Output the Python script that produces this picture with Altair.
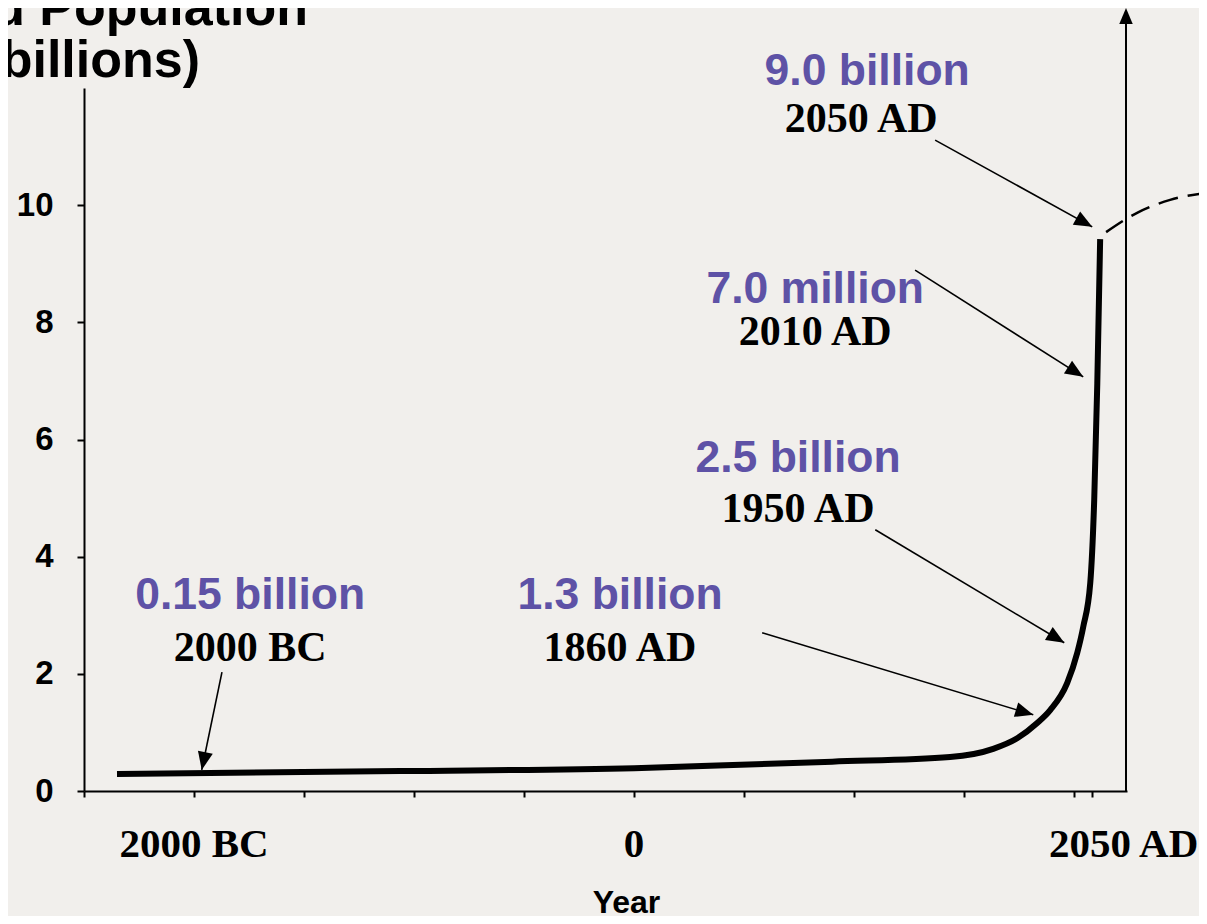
import math
import altair as alt
import pandas as pd

# ---------------- data ----------------
# schematic population curve: year (negative = BC), population (billions)
curve_year = [-2350, -1064, 0, 900, 1436, 1632, 1741, 1832, 1891, 1968, 2014, 2041, 2073, 2091, 2105, 2118]
curve_pop = [0.29, 0.34, 0.39, 0.50, 0.58, 0.72, 0.90, 1.16, 1.38, 1.84, 2.36, 2.80, 3.55, 4.97, 6.96, 9.42]

# dashed projection beyond 2050
proj_year = [2145, 2286, 2436, 2605]
proj_pop = [9.54, 9.87, 10.09, 10.21]

# annotations
purple_text = ["0.15 billion", "1.3 billion", "2.5 billion", "7.0 million", "9.0 billion"]
purple_year = [-1745, -64, 745, 823, 1059]
purple_pop = [3.11, 3.11, 5.45, 8.33, 12.05]
black_text = ["2000 BC", "1860 AD", "1950 AD", "2010 AD", "2050 AD"]
black_year = [-1745, -64, 745, 823, 1032]
black_pop = [2.22, 2.22, 4.59, 7.61, 11.25]

arrow_from_year = [-1873, 582, 1096, 1277, 1368]
arrow_from_pop = [2.03, 2.70, 4.46, 8.89, 11.11]
arrow_to_year = [-1965, 1814, 1955, 2041, 2082]
arrow_to_pop = [0.36, 1.30, 2.53, 7.07, 9.63]

# axis
x_ticks = [-2500, -2000, -1500, -1000, -500, 0, 500, 1000, 1500, 2000, 2080]
y_ticks = [0, 2, 4, 6, 8, 10]
xlab_text = ["2000 BC", "0", "2050 AD"]
xlab_year = [-2000, 0, 2225]

# ---------------- layout ----------------
W, H = 1043, 703
X_DOMAIN = [-2500, 2240]
Y_DOMAIN = [0, 12]
PX_PER_YEAR = W / (X_DOMAIN[1] - X_DOMAIN[0])
PX_PER_B = H / (Y_DOMAIN[1] - Y_DOMAIN[0])

PURPLE = "#5E52A6"
SANS = "Liberation Sans"
SERIF = "Liberation Serif"
ARROW_SHAPE = "M0,0L0.42,1L-0.42,1Z"

xs = alt.Scale(domain=X_DOMAIN, nice=False, zero=False)
ys = alt.Scale(domain=Y_DOMAIN, nice=False, zero=False)

xaxis = alt.Axis(
    values=x_ticks, labels=False, grid=False, tickSize=6, tickWidth=2, tickColor="black",
    domainColor="black", domainWidth=2, title="Year", titleFont=SANS, titleFontSize=32,
    titleFontWeight="bold", titleColor="black", titleX=542, titleY=121,
    titleAlign="center", titleBaseline="alphabetic",
)
yaxis = alt.Axis(
    values=y_ticks, grid=False, tickSize=7, tickWidth=2, tickColor="black",
    domainColor="black", domainWidth=2, labelFont=SANS, labelFontSize=33,
    labelFontWeight="bold", labelColor="black", labelPadding=24, title=None,
)


def X(field):
    return alt.X(field, type="quantitative", scale=xs, axis=xaxis)


def Y(field):
    return alt.Y(field, type="quantitative", scale=ys, axis=yaxis)


curve_df = pd.DataFrame({"year": curve_year, "val": curve_pop})
proj_df = pd.DataFrame({"year": proj_year, "val": proj_pop})
purple_df = pd.DataFrame({"year": purple_year, "val": purple_pop, "t": purple_text})
black_df = pd.DataFrame({"year": black_year, "val": black_pop, "t": black_text})

angles = []
for fy, fp, ty, tp in zip(arrow_from_year, arrow_from_pop, arrow_to_year, arrow_to_pop):
    dx = (ty - fy) * PX_PER_YEAR
    up = (tp - fp) * PX_PER_B
    angles.append(math.degrees(math.atan2(dx, up)) % 360)
arrow_df = pd.DataFrame({
    "year": arrow_from_year, "val": arrow_from_pop,
    "year2": arrow_to_year, "val2": arrow_to_pop, "ang": angles,
})
head_df = pd.DataFrame({"year": arrow_to_year, "val": arrow_to_pop, "ang": angles})
xlab_df = pd.DataFrame({"year": xlab_year, "t": xlab_text})
one = pd.DataFrame({"a": [0]})

curve = alt.Chart(curve_df).mark_line(
    color="black", strokeWidth=6, interpolate="monotone", strokeCap="butt"
).encode(x=X("year"), y=Y("val"))

proj = alt.Chart(proj_df).mark_line(
    color="black", strokeWidth=2.5, strokeDash=[20, 10], interpolate="monotone"
).encode(x=X("year"), y=Y("val"))

arrows = alt.Chart(arrow_df).mark_rule(color="black", strokeWidth=1.6).encode(
    x=X("year"), x2="year2", y=Y("val"), y2="val2"
)
heads = alt.Chart(head_df).mark_point(
    shape=ARROW_SHAPE, filled=True, color="black", opacity=1, size=1296, strokeWidth=0
).encode(x=X("year"), y=Y("val"), angle=alt.Angle("ang:Q", scale=None))

purple_txt = alt.Chart(purple_df).mark_text(
    font=SANS, fontWeight="bold", fontSize=44.5, color=PURPLE, align="center", baseline="alphabetic"
).encode(x=X("year"), y=Y("val"), text="t:N")

black_txt = alt.Chart(black_df).mark_text(
    font=SERIF, fontWeight="bold", fontSize=42, color="black", align="center", baseline="alphabetic"
).encode(x=X("year"), y=Y("val"), text="t:N")

xlabels = alt.Chart(xlab_df).mark_text(
    font=SERIF, fontWeight="bold", fontSize=41, color="black", align="center", baseline="alphabetic"
).encode(x=X("year"), y=alt.value(769), text="t:N")

# right-hand vertical arrow
right_line = alt.Chart(one).mark_rule(color="black", strokeWidth=2).encode(
    x=alt.value(W - 1), y=alt.value(H), y2=alt.value(-64)
)
right_head = alt.Chart(one).mark_point(
    shape=ARROW_SHAPE, filled=True, color="black", opacity=1, size=1024, strokeWidth=0
).encode(x=alt.value(W - 1), y=alt.value(-80))

# y-axis title (cropped at the left edge in the reference)
t1 = alt.Chart(pd.DataFrame({"t": ["World Population"]})).mark_text(
    font=SANS, fontWeight="bold", fontSize=52, color="black", align="right", baseline="alphabetic"
).encode(x=alt.value(224), y=alt.value(-63), text="t:N")
t2 = alt.Chart(pd.DataFrame({"t": ["(in billions)"]})).mark_text(
    font=SANS, fontWeight="bold", fontSize=52, color="black", align="right", baseline="alphabetic"
).encode(x=alt.value(116), y=alt.value(-11), text="t:N")

chart = alt.layer(
    curve, proj, arrows, heads, purple_txt, black_txt, xlabels, right_line, right_head, t1, t2
).properties(
    width=W, height=H,
    autosize=alt.AutoSizeParams(type="none"),
    padding={"left": 76, "top": 80, "right": 72, "bottom": 125},
    background="#F1EFEC",
).configure_view(stroke=None)

chart.save("out.html", embed_options={"renderer": "svg", "actions": False})
